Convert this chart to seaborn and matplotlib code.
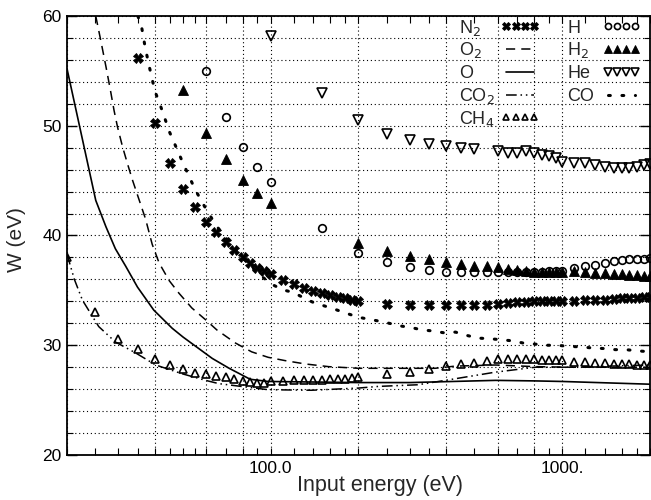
import matplotlib
matplotlib.use("Agg")
import matplotlib.pyplot as plt
import matplotlib.ticker as mticker
import seaborn as sns

# W (mean energy per ion pair) against input energy
n2_energy = [35, 40, 45, 50, 55, 60, 65, 70, 75, 80, 85, 90, 95, 100,
             110, 120, 130, 140, 150, 160, 170, 180, 190, 200,
             250, 300, 350, 400, 450, 500, 550, 600, 650, 700, 750, 800, 850, 900, 950, 1000,
             1100, 1200, 1300, 1400, 1500, 1600, 1700, 1800, 1900, 2000]
n2_w = [56.2, 50.25, 46.6, 44.2, 42.6, 41.2, 40.3, 39.4, 38.7, 38.0, 37.5, 37.0, 36.8, 36.45,
        35.9, 35.6, 35.2, 34.9, 34.8, 34.6, 34.4, 34.3, 34.1, 34.0,
        33.8, 33.7, 33.7, 33.7, 33.7, 33.7, 33.7, 33.75, 33.85, 33.9, 33.95, 34.0, 34.0, 34.0, 34.05, 34.05,
        34.05, 34.1, 34.1, 34.15, 34.25, 34.3, 34.3, 34.35, 34.4, 34.4]

h_energy = [60, 70, 80, 90, 100, 150, 200,
            250, 300, 350, 400, 450, 500, 550, 600, 650, 700, 750, 800, 850, 900, 950, 1000,
            1100, 1200, 1300, 1400, 1500, 1600, 1700, 1800, 1900, 2000]
h_w = [55.0, 50.8, 48.1, 46.25, 44.9, 40.7, 38.4,
       37.6, 37.1, 36.85, 36.7, 36.65, 36.65, 36.65, 36.65, 36.7, 36.7, 36.7, 36.7, 36.7, 36.75, 36.75, 36.8,
       37.0, 37.2, 37.35, 37.5, 37.65, 37.75, 37.85, 37.9, 37.9, 37.95]

h2_energy = [50, 60, 70, 80, 90, 100, 200,
             250, 300, 350, 400, 450, 500, 550, 600, 650, 700, 750, 800, 850, 900, 950, 1000,
             1100, 1200, 1300, 1400, 1500, 1600, 1700, 1800, 1900, 2000]
h2_w = [53.3, 49.3, 47.0, 45.1, 43.9, 43.0, 39.3,
        38.6, 38.1, 37.85, 37.6, 37.4, 37.25, 37.2, 37.1, 36.95, 36.85, 36.75, 36.7, 36.7, 36.7, 36.7, 36.7,
        36.75, 36.65, 36.6, 36.55, 36.5, 36.45, 36.4, 36.4, 36.35, 36.3]

he_energy = [100, 150, 200, 250, 300, 350, 400, 450, 500, 600, 650, 700, 750, 800, 850, 900, 950, 1000,
             1100, 1200, 1300, 1400, 1500, 1600, 1700, 1800, 1900, 2000]
he_w = [58.2, 53.0, 50.5, 49.25, 48.7, 48.3, 48.15, 48.0, 47.9, 47.7, 47.55, 47.5, 47.7, 47.5, 47.35, 47.2, 47.05, 46.7,
        46.6, 46.6, 46.4, 46.25, 46.15, 46.15, 46.15, 46.25, 46.4, 46.5]

ch4_energy = [20, 25, 30, 35, 40, 45, 50, 55, 60, 65, 70, 75, 80, 85, 90, 95, 100,
              110, 120, 130, 140, 150, 160, 170, 180, 190, 200,
              250, 300, 350, 400, 450, 500, 550, 600, 650, 700, 750, 800, 850, 900, 950, 1000,
              1100, 1200, 1300, 1400, 1500, 1600, 1700, 1800, 1900, 2000]
ch4_w = [38.0, 33.0, 30.6, 29.7, 28.75, 28.2, 27.85, 27.5, 27.4, 27.2, 27.1, 26.9, 26.75, 26.65, 26.6, 26.6, 26.7,
         26.75, 26.8, 26.8, 26.8, 26.85, 26.9, 26.9, 26.95, 27.0, 27.1,
         27.4, 27.55, 27.8, 28.1, 28.3, 28.4, 28.55, 28.75, 28.75, 28.75, 28.75, 28.75, 28.65, 28.65, 28.65, 28.65,
         28.5, 28.45, 28.4, 28.4, 28.3, 28.3, 28.3, 28.2, 28.2, 28.2]

o2_energy = [25.1, 26.1, 27.2, 28.2, 29.0, 29.8, 31.0, 32.2, 33.5, 35.3, 37.2, 39.2, 41.4, 44.8, 48.4, 53.6,
             59.9, 65.3, 75.7, 86, 98, 112, 131, 158, 200, 260, 366, 430, 590, 810, 1050, 2000]
o2_w = [60.0, 57.8, 55.4, 53.2, 51.4, 49.9, 48.1, 46.6, 45.1, 43.3, 41.5, 39.2, 37.5, 35.9, 34.75, 33.4,
        32.3, 31.4, 30.2, 29.4, 28.9, 28.6, 28.3, 28.05, 27.9, 27.9, 27.9, 28.1, 28.2, 28.05, 28.0, 28.0]

o_energy = [20, 25.1, 27.2, 29.3, 31.8, 34.9, 39.7, 45.9, 50, 63, 72, 85, 98, 140, 200, 300, 590, 810, 1000, 2000]
o_w = [55.2, 43.2, 40.8, 38.8, 37.2, 35.3, 33.2, 31.55, 30.75, 28.8, 27.9, 26.9, 26.7, 26.65, 26.6, 26.6,
       26.8, 26.75, 26.7, 26.45]

co2_energy = [20, 21.2, 22.6, 25.7, 29.3, 34.4, 40.3, 49.7, 59.8, 66.4, 82, 98, 138, 200, 234, 320, 397,
              590, 810, 1050, 2000]
co2_w = [38.3, 36.0, 34.1, 31.7, 30.3, 29.3, 28.2, 27.4, 26.8, 26.5, 26.2, 25.95, 25.9, 26.1, 26.25, 26.4, 26.8,
         27.55, 28.0, 28.0, 28.2]

co_energy = [35, 36, 37, 38, 39, 40, 42, 45, 50, 55, 60, 65, 70, 80, 90, 100, 110, 120, 130, 140, 150, 165, 180,
             200, 235, 255, 280, 305, 330, 360, 400, 430, 470, 515, 560, 620, 675, 735, 810, 880, 960, 1050,
             1160, 1270, 1390, 1520, 1650, 1800, 2000]
co_w = [60.0, 59.1, 57.3, 55.8, 54.5, 53.2, 51.7, 49.4, 46.6, 44.2, 42.4, 40.9, 39.8, 38.0, 36.6, 35.6, 35.05,
        34.8, 34.3, 33.9, 33.65, 33.3, 32.95, 32.55, 32.2, 32.0, 31.75, 31.6, 31.4, 31.3, 31.1, 31.2, 30.9,
        30.65, 30.6, 30.5, 30.4, 30.2, 30.1, 30.0, 30.0, 29.9, 29.85, 29.75, 29.7, 29.6, 29.6, 29.5, 29.4]

# axis ticks
x_major = [20, 40, 60, 80, 100, 200, 400, 600, 800, 1000, 2000]
x_major_labels = ["", "", "", "", "100.0", "", "", "", "", "1000.", ""]
x_minor = [25, 30, 35, 45, 50, 55, 70, 90, 120, 140, 160, 180, 250, 300, 350,
           500, 700, 900, 1200, 1400, 1600, 1800]
y_major = [20, 30, 40, 50, 60]

sns.set_theme(style="ticks")
plt.rcParams["font.family"] = ["Liberation Sans", "DejaVu Sans"]

W, H = 651, 500
fig = plt.figure(figsize=(W / 100, H / 100), dpi=100)
ax = fig.add_axes([67 / W, 45 / H, 583 / W, 439 / H])
ax.set_xscale("log")


def draw(x, y, label, **kw):
    return sns.lineplot(x=x, y=y, ax=ax, label=label, sort=False, estimator=None,
                        errorbar=None, color="black", **kw)


draw(n2_energy, n2_w, "N$_2$", linestyle="", marker="X", markersize=6.5,
     mec="black", mew=0.6)
draw(o2_energy, o2_w, "O$_2$", linestyle=(0, (6, 4)), linewidth=1.1)
draw(o_energy, o_w, "O", linestyle="-", linewidth=1.2)
draw(co2_energy, co2_w, "CO$_2$", linestyle=(0, (7, 2.5, 1, 2.5, 1, 2.5)), linewidth=1.1)
draw(ch4_energy, ch4_w, "CH$_4$", linestyle="", marker="^", markersize=6,
     markerfacecolor="none", mec="black", mew=1.2)
draw(h_energy, h_w, "H", linestyle="", marker="o", markersize=5.5,
     markerfacecolor="none", mec="black", mew=1.2)
draw(h2_energy, h2_w, "H$_2$", linestyle="", marker="^", markersize=7,
     mec="black", mew=0.6)
draw(he_energy, he_w, "He", linestyle="", marker="v", markersize=6.5,
     markerfacecolor="none", mec="black", mew=1.2)
draw(co_energy, co_w, "CO", linestyle=(0, (0.6, 3.8)), linewidth=2.2, dash_capstyle="round")

ax.set_xlim(20, 2000)
ax.set_ylim(20, 60)

ax.xaxis.set_major_locator(mticker.FixedLocator(x_major))
ax.xaxis.set_major_formatter(mticker.FixedFormatter(x_major_labels))
ax.xaxis.set_minor_locator(mticker.FixedLocator(x_minor))
ax.xaxis.set_minor_formatter(mticker.NullFormatter())
ax.yaxis.set_major_locator(mticker.FixedLocator(y_major))
ax.yaxis.set_minor_locator(mticker.MultipleLocator(2))

ax.grid(which="major", axis="x", color="black", linestyle=(0, (1, 2.5)), linewidth=0.8)
ax.grid(which="both", axis="y", color="black", linestyle=(0, (1, 2.5)), linewidth=0.8)

ax.tick_params(which="both", direction="in", top=True, right=True, colors="black",
               labelsize=12.5, pad=4)
ax.tick_params(axis="y", which="major", length=7, width=1)
ax.tick_params(axis="y", which="minor", length=4, width=0.8)
ax.tick_params(axis="x", which="both", length=5, width=0.8)

for spine in ax.spines.values():
    spine.set_color("black")
    spine.set_linewidth(1.3)

ax.set_xlabel("Input energy (eV)", fontsize=15.5)
ax.set_ylabel("W (eV)", fontsize=15)
ax.xaxis.set_label_coords(0.537, -0.046)
ax.yaxis.set_label_coords(-0.070, 0.49)

# legend: handles from matplotlib, labels left-aligned in front of each column
handles, labels = ax.get_legend_handles_labels()
leg = ax.legend(handles, [""] * len(handles), ncol=2, loc="upper right",
                bbox_to_anchor=(0.983, 0.992), frameon=False, markerfirst=False,
                numpoints=4, markerscale=0.8, fontsize=13, handlelength=2.1,
                handletextpad=0, columnspacing=3.5, labelspacing=0.32,
                borderaxespad=0, borderpad=0)
fig.canvas.draw()
n_rows = 5
for i, (txt, lab) in enumerate(zip(leg.get_texts(), labels)):
    bb = txt.get_window_extent()
    offset = 42 if i < n_rows else 35
    fig.text((bb.x0 - offset) / W, bb.y0 / H, lab, fontsize=13, ha="left", va="baseline")

fig.savefig("out.png", dpi=100)
